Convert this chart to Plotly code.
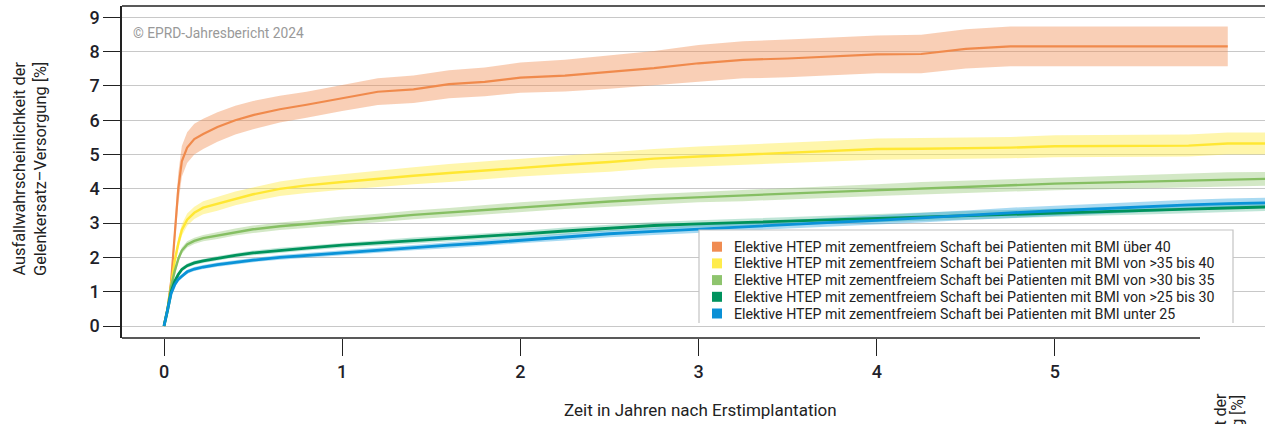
import plotly.graph_objects as go

# Years after primary implantation (shared time grid)
years = [0, 0.02, 0.04, 0.06, 0.08, 0.10, 0.13, 0.17, 0.22, 0.30, 0.40, 0.50, 0.65, 0.80,
         1.0, 1.2, 1.4, 1.6, 1.8, 2.0, 2.25, 2.5, 2.75, 3.0, 3.25, 3.5, 3.75, 4.0,
         4.25, 4.5, 4.75, 5.0, 5.25, 5.5, 5.75, 5.97, 6.18]

# BMI über 40 (follow-up ends at 5.97 years)
bmi40_val = [0, 0.5, 1.3, 2.6, 4.0, 4.8, 5.2, 5.45, 5.6, 5.8, 6.0, 6.15, 6.32, 6.45,
             6.65, 6.83, 6.9, 7.05, 7.12, 7.24, 7.3, 7.4, 7.52, 7.66, 7.76, 7.8, 7.85, 7.92,
             7.93, 8.08, 8.15, 8.15, 8.15, 8.15, 8.15, 8.15]
bmi40_lo = [0, 0.4, 1.1, 2.25, 3.55, 4.35, 4.75, 5.0, 5.16, 5.37, 5.58, 5.74, 5.93, 6.07,
            6.27, 6.44, 6.5, 6.64, 6.7, 6.8, 6.84, 6.92, 7.02, 7.13, 7.22, 7.25, 7.3, 7.37,
            7.37, 7.51, 7.57, 7.57, 7.57, 7.57, 7.57, 7.57]
bmi40_hi = [0, 0.6, 1.5, 2.95, 4.45, 5.25, 5.65, 5.9, 6.04, 6.23, 6.42, 6.56, 6.71, 6.83,
            7.03, 7.22, 7.3, 7.46, 7.54, 7.68, 7.76, 7.88, 8.02, 8.19, 8.3, 8.35, 8.4, 8.47,
            8.49, 8.65, 8.73, 8.73, 8.73, 8.73, 8.73, 8.73]

# BMI >35 bis 40
bmi35_val = [0, 0.5, 1.2, 1.9, 2.4, 2.8, 3.1, 3.3, 3.45, 3.56, 3.72, 3.84, 4.0, 4.1,
             4.2, 4.3, 4.38, 4.46, 4.54, 4.62, 4.7, 4.78, 4.88, 4.94, 4.99, 5.04, 5.1, 5.16,
             5.17, 5.18, 5.2, 5.24, 5.25, 5.25, 5.26, 5.32, 5.32]
bmi35_lo = [0, 0.45, 1.1, 1.75, 2.24, 2.63, 2.92, 3.12, 3.26, 3.36, 3.52, 3.64, 3.79, 3.88,
            3.97, 4.06, 4.13, 4.2, 4.28, 4.36, 4.43, 4.5, 4.6, 4.65, 4.7, 4.74, 4.8, 4.85,
            4.86, 4.87, 4.89, 4.92, 4.93, 4.93, 4.94, 5.0, 5.0]
bmi35_hi = [0, 0.55, 1.3, 2.05, 2.56, 2.97, 3.28, 3.48, 3.64, 3.76, 3.92, 4.04, 4.21, 4.32,
            4.43, 4.54, 4.63, 4.72, 4.8, 4.88, 4.97, 5.06, 5.16, 5.23, 5.28, 5.34, 5.4, 5.47,
            5.48, 5.49, 5.51, 5.56, 5.57, 5.57, 5.58, 5.64, 5.64]

# BMI >30 bis 35
bmi30_val = [0, 0.5, 1.15, 1.6, 1.95, 2.2, 2.38, 2.48, 2.56, 2.64, 2.74, 2.82, 2.91, 2.97,
             3.07, 3.15, 3.24, 3.31, 3.39, 3.47, 3.55, 3.63, 3.7, 3.76, 3.8, 3.86, 3.91, 3.96,
             4.02, 4.06, 4.11, 4.15, 4.18, 4.21, 4.25, 4.28, 4.29]
bmi30_lo = [0, 0.46, 1.08, 1.51, 1.86, 2.11, 2.29, 2.39, 2.47, 2.54, 2.64, 2.71, 2.8, 2.86,
            2.95, 3.03, 3.11, 3.18, 3.25, 3.33, 3.41, 3.48, 3.55, 3.61, 3.64, 3.7, 3.74, 3.79,
            3.84, 3.88, 3.92, 3.96, 3.99, 4.01, 4.05, 4.08, 4.09]
bmi30_hi = [0, 0.54, 1.22, 1.69, 2.04, 2.29, 2.47, 2.57, 2.65, 2.74, 2.84, 2.93, 3.02, 3.08,
            3.19, 3.27, 3.37, 3.44, 3.53, 3.61, 3.69, 3.78, 3.85, 3.91, 3.96, 4.02, 4.08, 4.13,
            4.2, 4.24, 4.3, 4.34, 4.37, 4.41, 4.45, 4.48, 4.49]

# BMI >25 bis 30
bmi25_val = [0, 0.45, 1.0, 1.3, 1.5, 1.65, 1.76, 1.84, 1.9, 1.98, 2.06, 2.13, 2.21, 2.27,
             2.36, 2.42, 2.49, 2.55, 2.61, 2.68, 2.77, 2.86, 2.93, 2.98, 3.02, 3.06, 3.1, 3.15,
             3.19, 3.23, 3.27, 3.31, 3.34, 3.37, 3.41, 3.44, 3.47]
bmi25_lo = [0, 0.42, 0.95, 1.24, 1.44, 1.59, 1.7, 1.78, 1.84, 1.92, 2.0, 2.06, 2.14, 2.2,
            2.28, 2.34, 2.4, 2.46, 2.52, 2.59, 2.67, 2.76, 2.83, 2.88, 2.91, 2.95, 2.99, 3.04,
            3.07, 3.11, 3.15, 3.19, 3.22, 3.25, 3.29, 3.32, 3.35]
bmi25_hi = [0, 0.48, 1.05, 1.36, 1.56, 1.71, 1.82, 1.9, 1.96, 2.04, 2.12, 2.2, 2.28, 2.34,
            2.44, 2.5, 2.58, 2.64, 2.7, 2.77, 2.87, 2.96, 3.03, 3.08, 3.13, 3.17, 3.21, 3.26,
            3.31, 3.35, 3.39, 3.43, 3.46, 3.49, 3.53, 3.56, 3.59]

# BMI unter 25
bmi_u25_val = [0, 0.45, 0.95, 1.2, 1.36, 1.45, 1.58, 1.66, 1.72, 1.79, 1.86, 1.92, 2.0, 2.06,
               2.13, 2.21, 2.29, 2.36, 2.42, 2.5, 2.59, 2.69, 2.76, 2.83, 2.9, 2.96, 3.02, 3.08,
               3.16, 3.23, 3.3, 3.36, 3.42, 3.48, 3.53, 3.57, 3.59]
bmi_u25_lo = [0, 0.42, 0.9, 1.14, 1.3, 1.39, 1.52, 1.6, 1.66, 1.73, 1.8, 1.86, 1.93, 1.99,
              2.06, 2.13, 2.21, 2.27, 2.33, 2.41, 2.49, 2.59, 2.65, 2.72, 2.78, 2.84, 2.9, 2.95,
              3.02, 3.09, 3.15, 3.21, 3.27, 3.33, 3.38, 3.42, 3.44]
bmi_u25_hi = [0, 0.48, 1.0, 1.26, 1.42, 1.51, 1.64, 1.72, 1.78, 1.85, 1.92, 1.98, 2.07, 2.13,
              2.2, 2.29, 2.37, 2.45, 2.51, 2.59, 2.69, 2.79, 2.87, 2.94, 3.02, 3.08, 3.14, 3.21,
              3.3, 3.37, 3.45, 3.51, 3.57, 3.63, 3.68, 3.72, 3.74]

legend_names = [
    "Elektive HTEP mit zementfreiem Schaft bei Patienten mit BMI über 40",
    "Elektive HTEP mit zementfreiem Schaft bei Patienten mit BMI von >35 bis 40",
    "Elektive HTEP mit zementfreiem Schaft bei Patienten mit BMI von >30 bis 35",
    "Elektive HTEP mit zementfreiem Schaft bei Patienten mit BMI von >25 bis 30",
    "Elektive HTEP mit zementfreiem Schaft bei Patienten mit BMI unter 25",
]

series = [
    (years[:len(bmi40_val)], bmi40_val, bmi40_lo, bmi40_hi,
     "#F08A4C", "rgba(241,140,80,0.42)", "#F08C52", 2.2),
    (years, bmi35_val, bmi35_lo, bmi35_hi,
     "#FFE733", "rgba(255,236,70,0.45)", "#FFEC4C", 2.4),
    (years, bmi30_val, bmi30_lo, bmi30_hi,
     "#86BF63", "rgba(140,194,106,0.38)", "#8EC46E", 2.4),
    (years, bmi25_val, bmi25_lo, bmi25_hi,
     "#00935C", "rgba(0,150,94,0.25)", "#00925E", 2.8),
    (years, bmi_u25_val, bmi_u25_lo, bmi_u25_hi,
     "#0A93D8", "rgba(10,149,218,0.35)", "#0A90D6", 2.8),
]

FONT = "Roboto, 'Noto Sans', sans-serif"
W, H = 1265, 424
ML, MR, MT, MB = 122, 0, 6, 86
PW, PH = W - ML - MR, H - MT - MB


def px_x(p):
    return (p - ML) / PW


def px_y(p):
    return (H - MB - p) / PH


fig = go.Figure()

# confidence bands
for t, v, lo, hi, line_c, band_c, leg_c, lw in series:
    fig.add_trace(go.Scatter(x=t, y=hi, mode="lines", line=dict(width=0, color=band_c),
                             showlegend=False, hoverinfo="skip"))
    fig.add_trace(go.Scatter(x=t, y=lo, mode="lines", line=dict(width=0, color=band_c),
                             fill="tonexty", fillcolor=band_c, showlegend=False,
                             hoverinfo="skip"))

# estimated failure curves
for t, v, lo, hi, line_c, band_c, leg_c, lw in series:
    fig.add_trace(go.Scatter(x=t, y=v, mode="lines", line=dict(width=lw, color=line_c),
                             showlegend=False))

shapes = [
    # top frame line
    dict(type="line", xref="paper", yref="paper", x0=0, x1=1, y0=1, y1=1,
         line=dict(color="#222", width=1.5)),
    # bottom axis line
    dict(type="line", xref="paper", yref="paper", x0=0, x1=px_x(1200), y0=0, y1=0,
         line=dict(color="#222", width=1.5)),
    # legend background
    dict(type="rect", xref="paper", yref="paper", x0=px_x(699), x1=px_x(1233),
         y0=px_y(323), y1=px_y(230), fillcolor="white", line=dict(width=0), layer="above"),
    # legend frame (open at the bottom)
    dict(type="path", xref="paper", yref="paper",
         path=f"M {px_x(699)},{px_y(323)} L {px_x(699)},{px_y(230)} "
              f"L {px_x(1233)},{px_y(230)} L {px_x(1233)},{px_y(323)}",
         line=dict(color="#c4c4c4", width=1.2), layer="above"),
]

ytitle_1 = "Ausfallwahrscheinlichkeit der"
ytitle_2 = "Gelenkersatz–Versorgung [%]"

annotations = [
    dict(text="© EPRD-Jahresbericht 2024", xref="paper", yref="paper",
         x=px_x(131), y=px_y(33), xanchor="left", yanchor="middle", showarrow=False,
         font=dict(family=FONT, size=13.8, color="#999999")),
    dict(text=ytitle_1 + "<br>" + ytitle_2, xref="paper", yref="paper",
         x=px_x(30), y=px_y(169), xanchor="center", yanchor="middle", textangle=-90,
         showarrow=False, font=dict(family=FONT, size=16.4, color="#222")),
    dict(text="Zeit in Jahren nach Erstimplantation", xref="paper", yref="paper",
         x=px_x(700), y=px_y(410), xanchor="center", yanchor="middle", showarrow=False,
         font=dict(family=FONT, size=17, color="#222")),
    # repeated axis caption running off the lower right corner
    dict(text=ytitle_1, xref="paper", yref="paper", x=px_x(1220), y=px_y(498),
         xanchor="center", yanchor="middle", textangle=-90, showarrow=False,
         font=dict(family=FONT, size=16, color="#222")),
    dict(text=ytitle_2, xref="paper", yref="paper", x=px_x(1237), y=px_y(500),
         xanchor="center", yanchor="middle", textangle=-90, showarrow=False,
         font=dict(family=FONT, size=16, color="#222")),
]

# legend rows: colour swatch plus label
row0, row_step = 246.7, 16.7
for i, (name, s) in enumerate(zip(legend_names, series)):
    yc = row0 + i * row_step
    shapes.append(dict(type="rect", xref="paper", yref="paper",
                       x0=px_x(712), x1=px_x(722), y0=px_y(yc + 5), y1=px_y(yc - 5),
                       fillcolor=s[6], line=dict(width=0), layer="above"))
    annotations.append(dict(text=name, xref="paper", yref="paper", x=px_x(732),
                            y=px_y(yc), xanchor="left", yanchor="middle", showarrow=False,
                            font=dict(family=FONT, size=14.2, color="#222")))

fig.update_layout(
    width=W, height=H,
    margin=dict(l=ML, r=MR, t=MT, b=MB, pad=0),
    paper_bgcolor="white", plot_bgcolor="white",
    font=dict(family=FONT, color="#222"),
    showlegend=False,
    xaxis=dict(range=[-0.2357, 6.179], tickvals=[0, 1, 2, 3, 4, 5], ticks="outside",
               ticklen=17, tickwidth=1.4, tickcolor="#222", showgrid=False,
               zeroline=False, showline=False,
               tickfont=dict(family=FONT, size=18, color="#1f1f2a", weight=500)),
    yaxis=dict(range=[-0.35, 9.33], tickvals=list(range(10)), ticks="outside",
               ticklen=17, tickwidth=1.4, tickcolor="#222", showgrid=True,
               gridcolor="#c8c8c8", gridwidth=1.2, zeroline=False, showline=True,
               linecolor="#222", linewidth=1.5,
               tickfont=dict(family=FONT, size=18, color="#1f1f2a", weight=500)),
    shapes=shapes,
    annotations=annotations,
)

fig.write_html("out.html")
